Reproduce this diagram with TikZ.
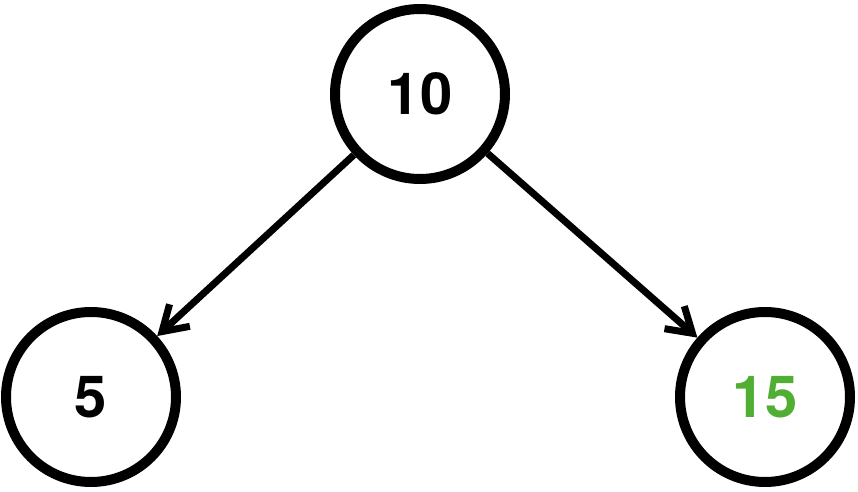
\documentclass[tikz,border=0pt]{standalone}
\usepackage{fontspec}
\setmainfont{TeX Gyre Heros}
\usetikzlibrary{arrows.meta}
\usetikzlibrary{positioning}
\tikzset{keynode/.style = {draw, circle, line width = 5pt, inner sep = 0, minimum size = 85pt, font = \fontsize{29}{34}\selectfont\bfseries}}
\tikzset{edge/.style = {line width = 3.5pt, -{Straight Barb[length = 12pt, width = 15pt]}}}
\definecolor{mgreen}{RGB}{80, 174, 50}

\begin{document}
\begin{tikzpicture}[x = 0.5pt, y = -0.5pt]
      \useasboundingbox (0, 0) rectangle (858, 492);

      \node [keynode] (root) at (420, 94) {10};
      \node [keynode] (lchild) at (91, 397) {5};
      \node [keynode, text = mgreen] (rchild) at (765, 397) {15};

      \draw [edge] (root) -- (lchild);
      \draw [edge] (root) -- (rchild);
    \end{tikzpicture}
\end{document}
